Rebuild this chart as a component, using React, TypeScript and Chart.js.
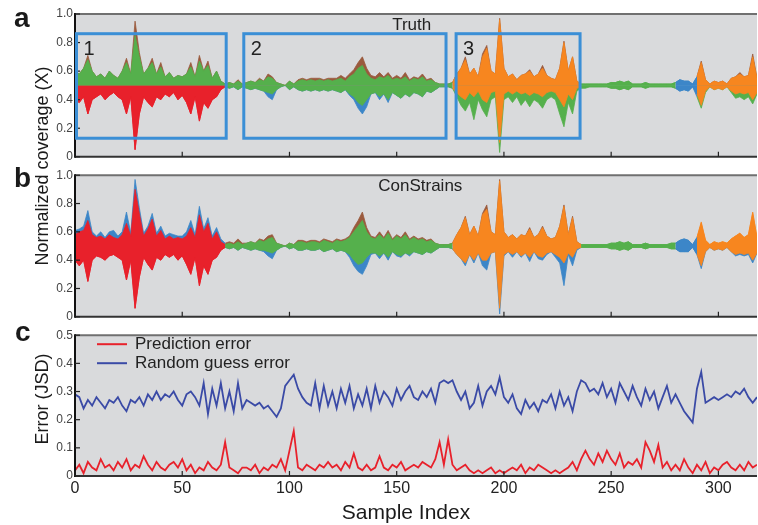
import React, { useEffect, useRef } from 'react';
import { Chart, registerables } from 'chart.js';
Chart.register(...registerables);

const FONT = '"Liberation Sans", Arial, Helvetica, sans-serif';

// Sample index of each stored value (every 2nd sample)
const SAMPLE_X = Array.from({ length: 160 }, (_, i) => i * 2);
const X_TICKS = [0, 50, 100, 150, 200, 250, 300];

// ---------- Panel a (Truth): envelopes around 0.5 ----------
const A_UP = [
  0.60,0.58,0.62,0.68,0.60,0.56,0.58,0.55,0.60,0.57,
  0.55,0.60,0.66,0.58,0.85,0.70,0.58,0.62,0.66,0.58,
  0.63,0.56,0.59,0.55,0.57,0.56,0.58,0.63,0.56,0.67,
  0.60,0.64,0.55,0.60,0.53,0.51,0.52,0.51,0.53,0.51,
  0.52,0.53,0.52,0.54,0.53,0.56,0.55,0.52,0.51,0.50,
  0.53,0.51,0.53,0.54,0.53,0.54,0.53,0.54,0.53,0.54,
  0.53,0.54,0.55,0.53,0.56,0.58,0.62,0.64,0.58,0.55,
  0.54,0.56,0.55,0.57,0.54,0.55,0.54,0.56,0.53,0.55,
  0.54,0.56,0.53,0.54,0.52,0.51,0.51,0.51,0.52,0.58,
  0.62,0.68,0.58,0.62,0.56,0.70,0.76,0.60,0.58,0.96,
  0.62,0.56,0.58,0.54,0.57,0.58,0.60,0.56,0.58,0.62,
  0.57,0.55,0.54,0.62,0.80,0.60,0.70,0.53,0.51,0.51,
  0.51,0.51,0.51,0.51,0.51,0.52,0.52,0.53,0.52,0.53,
  0.51,0.51,0.51,0.52,0.51,0.51,0.51,0.51,0.51,0.51,
  0.52,0.54,0.53,0.53,0.51,0.56,0.66,0.54,0.51,0.53,
  0.52,0.53,0.51,0.55,0.56,0.58,0.56,0.57,0.70,0.55,
];
const A_UP_TIP = [
  0.60,0.58,0.62,0.71,0.60,0.56,0.58,0.55,0.60,0.57,
  0.55,0.60,0.69,0.58,0.95,0.73,0.58,0.62,0.69,0.58,
  0.66,0.56,0.59,0.55,0.57,0.56,0.58,0.66,0.56,0.71,
  0.60,0.67,0.55,0.60,0.53,0.51,0.52,0.51,0.54,0.51,
  0.52,0.53,0.52,0.55,0.53,0.58,0.56,0.52,0.51,0.50,
  0.53,0.51,0.54,0.55,0.54,0.55,0.55,0.55,0.54,0.55,
  0.55,0.55,0.57,0.55,0.58,0.61,0.66,0.70,0.62,0.57,
  0.56,0.59,0.56,0.59,0.55,0.57,0.55,0.59,0.54,0.56,
  0.55,0.58,0.54,0.55,0.52,0.51,0.51,0.51,0.52,0.58,
  0.62,0.70,0.58,0.62,0.56,0.72,0.78,0.60,0.58,0.97,
  0.62,0.56,0.58,0.54,0.57,0.58,0.61,0.56,0.58,0.64,
  0.57,0.55,0.54,0.62,0.81,0.60,0.70,0.53,0.51,0.51,
  0.51,0.51,0.51,0.51,0.51,0.52,0.52,0.53,0.52,0.53,
  0.51,0.51,0.51,0.52,0.51,0.51,0.51,0.51,0.51,0.51,
  0.52,0.54,0.53,0.53,0.51,0.56,0.67,0.54,0.51,0.53,
  0.52,0.53,0.51,0.55,0.56,0.59,0.56,0.57,0.72,0.55,
];
const A_LO = [
  0.40,0.38,0.42,0.30,0.40,0.42,0.44,0.40,0.43,0.45,
  0.42,0.40,0.30,0.42,0.05,0.30,0.42,0.38,0.35,0.42,
  0.40,0.44,0.42,0.45,0.40,0.43,0.38,0.30,0.42,0.25,
  0.38,0.34,0.40,0.42,0.47,0.49,0.48,0.49,0.47,0.49,
  0.48,0.47,0.48,0.47,0.46,0.45,0.44,0.47,0.49,0.50,
  0.47,0.49,0.47,0.46,0.47,0.46,0.47,0.46,0.47,0.46,
  0.47,0.46,0.45,0.47,0.44,0.42,0.38,0.36,0.40,0.44,
  0.45,0.42,0.44,0.40,0.45,0.43,0.41,0.44,0.42,0.45,
  0.44,0.42,0.46,0.45,0.47,0.49,0.49,0.49,0.48,0.45,
  0.42,0.40,0.45,0.42,0.46,0.40,0.38,0.45,0.46,0.10,
  0.44,0.46,0.44,0.46,0.44,0.45,0.43,0.45,0.44,0.42,
  0.45,0.46,0.45,0.40,0.35,0.44,0.40,0.48,0.49,0.49,
  0.49,0.49,0.49,0.49,0.49,0.48,0.48,0.47,0.48,0.47,
  0.49,0.49,0.49,0.48,0.49,0.49,0.49,0.49,0.49,0.49,
  0.48,0.46,0.47,0.46,0.49,0.44,0.36,0.46,0.49,0.47,
  0.48,0.47,0.49,0.46,0.44,0.45,0.44,0.45,0.40,0.45,
];
const A_LO_TIP = [
  0.40,0.38,0.42,0.30,0.40,0.42,0.44,0.40,0.43,0.45,
  0.42,0.40,0.30,0.42,0.05,0.30,0.42,0.38,0.35,0.42,
  0.40,0.44,0.42,0.45,0.40,0.43,0.38,0.30,0.42,0.25,
  0.38,0.34,0.40,0.42,0.47,0.49,0.48,0.49,0.47,0.49,
  0.48,0.47,0.48,0.47,0.46,0.42,0.40,0.47,0.49,0.50,
  0.47,0.49,0.47,0.46,0.47,0.46,0.47,0.46,0.47,0.46,
  0.47,0.46,0.45,0.47,0.43,0.40,0.34,0.30,0.35,0.44,
  0.45,0.40,0.44,0.38,0.45,0.43,0.41,0.44,0.42,0.45,
  0.44,0.42,0.46,0.45,0.47,0.49,0.49,0.49,0.48,0.42,
  0.36,0.32,0.38,0.26,0.40,0.33,0.28,0.40,0.42,0.03,
  0.40,0.42,0.38,0.42,0.36,0.40,0.35,0.40,0.38,0.34,
  0.40,0.42,0.40,0.30,0.21,0.38,0.30,0.46,0.48,0.48,
  0.49,0.49,0.49,0.49,0.49,0.48,0.48,0.47,0.48,0.47,
  0.49,0.49,0.49,0.48,0.49,0.49,0.49,0.49,0.49,0.49,
  0.48,0.46,0.47,0.46,0.49,0.42,0.34,0.45,0.49,0.47,
  0.48,0.47,0.49,0.45,0.41,0.42,0.40,0.42,0.37,0.44,
];

// ---------- Panel b (ConStrains) ----------
const B_UP = [
  0.58,0.60,0.61,0.68,0.58,0.56,0.57,0.55,0.58,0.56,
  0.55,0.58,0.66,0.57,0.90,0.73,0.57,0.62,0.69,0.57,
  0.61,0.55,0.57,0.55,0.56,0.55,0.57,0.63,0.56,0.72,
  0.60,0.66,0.55,0.60,0.53,0.51,0.52,0.51,0.53,0.51,
  0.52,0.53,0.52,0.54,0.53,0.55,0.56,0.52,0.51,0.50,
  0.52,0.51,0.53,0.53,0.52,0.53,0.53,0.52,0.54,0.53,
  0.52,0.54,0.53,0.54,0.56,0.60,0.64,0.68,0.60,0.56,
  0.55,0.58,0.55,0.59,0.54,0.57,0.55,0.58,0.54,0.56,
  0.54,0.55,0.53,0.54,0.52,0.51,0.51,0.51,0.52,0.58,
  0.63,0.70,0.58,0.64,0.57,0.72,0.76,0.60,0.58,0.96,
  0.60,0.56,0.58,0.55,0.58,0.57,0.62,0.56,0.58,0.63,
  0.57,0.55,0.56,0.64,0.78,0.58,0.70,0.53,0.51,0.51,
  0.51,0.51,0.51,0.51,0.51,0.52,0.52,0.53,0.52,0.53,
  0.51,0.51,0.51,0.52,0.51,0.51,0.51,0.51,0.51,0.52,
  0.52,0.54,0.55,0.54,0.51,0.56,0.66,0.54,0.51,0.53,
  0.52,0.53,0.52,0.55,0.57,0.59,0.56,0.58,0.73,0.56,
];
const B_UP_TIP = [
  0.61,0.62,0.64,0.75,0.60,0.57,0.60,0.56,0.60,0.61,
  0.57,0.60,0.74,0.59,0.97,0.77,0.59,0.64,0.73,0.59,
  0.64,0.57,0.59,0.58,0.57,0.57,0.60,0.68,0.58,0.78,
  0.62,0.70,0.57,0.63,0.55,0.52,0.53,0.52,0.55,0.52,
  0.52,0.53,0.52,0.55,0.54,0.57,0.58,0.52,0.51,0.50,
  0.52,0.51,0.54,0.54,0.53,0.54,0.54,0.53,0.55,0.54,
  0.53,0.55,0.54,0.55,0.57,0.63,0.68,0.74,0.63,0.57,
  0.56,0.60,0.56,0.61,0.55,0.58,0.56,0.60,0.55,0.57,
  0.55,0.56,0.54,0.55,0.52,0.51,0.51,0.51,0.52,0.58,
  0.63,0.71,0.58,0.64,0.57,0.73,0.79,0.60,0.58,0.97,
  0.60,0.56,0.58,0.55,0.58,0.57,0.63,0.56,0.58,0.64,
  0.57,0.55,0.56,0.64,0.79,0.58,0.71,0.53,0.51,0.51,
  0.51,0.51,0.51,0.51,0.51,0.52,0.52,0.53,0.52,0.53,
  0.51,0.51,0.51,0.52,0.51,0.51,0.51,0.51,0.51,0.52,
  0.52,0.54,0.55,0.54,0.51,0.56,0.67,0.54,0.51,0.53,
  0.52,0.53,0.52,0.55,0.57,0.59,0.56,0.58,0.74,0.56,
];
const B_LO = [
  0.40,0.36,0.40,0.25,0.40,0.43,0.42,0.40,0.43,0.44,
  0.42,0.40,0.26,0.40,0.06,0.28,0.42,0.37,0.33,0.42,
  0.40,0.44,0.42,0.44,0.40,0.43,0.37,0.30,0.42,0.22,
  0.36,0.30,0.40,0.42,0.47,0.49,0.48,0.49,0.47,0.49,
  0.48,0.47,0.48,0.47,0.47,0.46,0.45,0.47,0.49,0.50,
  0.48,0.49,0.47,0.47,0.48,0.47,0.47,0.48,0.46,0.47,
  0.48,0.46,0.47,0.46,0.44,0.40,0.37,0.38,0.42,0.45,
  0.45,0.43,0.45,0.42,0.46,0.44,0.43,0.45,0.44,0.46,
  0.45,0.44,0.46,0.45,0.47,0.49,0.49,0.49,0.48,0.44,
  0.41,0.38,0.44,0.40,0.45,0.40,0.40,0.45,0.46,0.06,
  0.44,0.46,0.44,0.46,0.43,0.45,0.42,0.46,0.43,0.42,
  0.45,0.46,0.44,0.42,0.38,0.45,0.42,0.48,0.49,0.49,
  0.49,0.49,0.49,0.49,0.49,0.48,0.48,0.47,0.48,0.47,
  0.49,0.49,0.49,0.48,0.49,0.49,0.49,0.49,0.49,0.48,
  0.48,0.46,0.46,0.46,0.49,0.44,0.36,0.46,0.49,0.47,
  0.48,0.47,0.49,0.46,0.44,0.45,0.44,0.45,0.40,0.45,
];
const B_LO_TIP = [
  0.40,0.36,0.40,0.25,0.40,0.43,0.42,0.40,0.43,0.44,
  0.42,0.40,0.26,0.40,0.06,0.28,0.42,0.37,0.33,0.42,
  0.40,0.44,0.42,0.44,0.40,0.43,0.37,0.30,0.42,0.22,
  0.36,0.30,0.40,0.42,0.47,0.49,0.48,0.49,0.47,0.49,
  0.48,0.47,0.48,0.47,0.46,0.43,0.41,0.47,0.49,0.50,
  0.48,0.49,0.47,0.47,0.48,0.47,0.47,0.48,0.46,0.47,
  0.48,0.46,0.47,0.46,0.42,0.36,0.32,0.30,0.36,0.44,
  0.45,0.41,0.45,0.40,0.46,0.43,0.42,0.45,0.43,0.46,
  0.45,0.44,0.46,0.45,0.47,0.49,0.49,0.49,0.48,0.44,
  0.41,0.36,0.44,0.38,0.45,0.36,0.33,0.45,0.46,0.02,
  0.43,0.46,0.42,0.46,0.42,0.45,0.39,0.46,0.41,0.40,
  0.44,0.46,0.42,0.38,0.22,0.44,0.36,0.47,0.49,0.49,
  0.49,0.49,0.49,0.49,0.49,0.48,0.48,0.47,0.48,0.47,
  0.49,0.49,0.49,0.48,0.49,0.49,0.49,0.49,0.49,0.48,
  0.48,0.46,0.46,0.46,0.49,0.44,0.34,0.46,0.49,0.47,
  0.48,0.47,0.49,0.46,0.43,0.44,0.43,0.44,0.38,0.45,
];

// ---------- Panel c: JSD errors ----------
const PRED_ERR = [
  0.02,0.04,0.01,0.05,0.03,0.02,0.06,0.03,0.04,0.02,
  0.05,0.03,0.06,0.02,0.04,0.03,0.07,0.04,0.02,0.05,
  0.03,0.02,0.04,0.05,0.03,0.06,0.02,0.04,0.01,0.03,
  0.02,0.05,0.03,0.02,0.04,0.12,0.03,0.02,0.01,0.03,
  0.03,0.02,0.04,0.01,0.03,0.02,0.04,0.03,0.06,0.02,
  0.09,0.16,0.03,0.02,0.04,0.03,0.02,0.04,0.03,0.05,
  0.03,0.04,0.02,0.05,0.03,0.08,0.03,0.02,0.04,0.02,
  0.03,0.07,0.03,0.02,0.04,0.03,0.05,0.02,0.03,0.04,
  0.03,0.05,0.04,0.03,0.06,0.12,0.04,0.13,0.04,0.02,
  0.03,0.04,0.02,0.01,0.02,0.01,0.02,0.03,0.01,0.02,
  0.01,0.02,0.03,0.02,0.04,0.01,0.03,0.02,0.04,0.03,
  0.02,0.01,0.02,0.01,0.02,0.03,0.05,0.02,0.06,0.09,
  0.06,0.04,0.08,0.05,0.09,0.06,0.04,0.08,0.03,0.05,
  0.04,0.06,0.03,0.12,0.09,0.05,0.11,0.03,0.05,0.02,
  0.04,0.02,0.06,0.03,0.01,0.04,0.02,0.05,0.01,0.03,
  0.02,0.04,0.05,0.03,0.02,0.04,0.02,0.05,0.03,0.04,
];
const RANDOM_ERR = [
  0.29,0.28,0.24,0.27,0.25,0.28,0.26,0.24,0.27,0.26,
  0.28,0.25,0.23,0.27,0.26,0.28,0.25,0.29,0.27,0.30,
  0.27,0.29,0.28,0.30,0.27,0.25,0.29,0.30,0.28,0.25,
  0.33,0.22,0.31,0.25,0.33,0.24,0.30,0.23,0.33,0.24,
  0.27,0.26,0.25,0.26,0.24,0.25,0.23,0.21,0.24,0.32,
  0.34,0.36,0.31,0.28,0.26,0.25,0.33,0.24,0.32,0.25,
  0.30,0.24,0.31,0.26,0.32,0.24,0.29,0.25,0.31,0.24,
  0.32,0.26,0.30,0.28,0.25,0.31,0.27,0.30,0.32,0.28,
  0.27,0.30,0.28,0.31,0.26,0.33,0.34,0.33,0.34,0.30,
  0.27,0.30,0.24,0.26,0.32,0.25,0.30,0.32,0.29,0.35,
  0.28,0.26,0.29,0.24,0.22,0.27,0.24,0.26,0.23,0.27,
  0.26,0.29,0.24,0.30,0.25,0.28,0.23,0.30,0.34,0.33,
  0.30,0.31,0.29,0.33,0.28,0.31,0.26,0.33,0.30,0.27,
  0.32,0.28,0.25,0.31,0.27,0.30,0.24,0.28,0.32,0.26,
  0.29,0.26,0.23,0.21,0.19,0.31,0.37,0.26,0.27,0.28,
  0.27,0.28,0.29,0.28,0.30,0.29,0.31,0.28,0.26,0.28,
];

// Highlighted regions in panel a (sample-index ranges) and their labels
const BOX_LABELS = ['1', '2', '3'];
const BOX_FROM = [0, 78, 177];
const BOX_TO = [70.5, 173, 235.5];
const BOX_LOW = 0.13;
const BOX_HIGH = 0.862;

// ---------- styles ----------
const RED = '#e8212b';
const GREEN = '#55b04c';
const BLUE = '#3c86c8';
const ORANGE = '#f7861f';
const BROWN = '#9a5a3e';
const BG = '#d9dadc';
const BOX_COLOR = '#3b8fd6';
const LINE_RED = '#e8212b';
const LINE_BLUE = '#3a4aa6';

type Region = { from: number; to: number; up: [string, string]; lo: [string, string] };
const REGIONS_A: Region[] = [
  { from: 0, to: 70, up: [GREEN, BROWN], lo: [RED, RED] },
  { from: 70, to: 176, up: [GREEN, BROWN], lo: [GREEN, BLUE] },
  { from: 176, to: 236, up: [ORANGE, BROWN], lo: [ORANGE, GREEN] },
  { from: 236, to: 280, up: [GREEN, GREEN], lo: [GREEN, GREEN] },
  { from: 280, to: 290, up: [BLUE, BLUE], lo: [BLUE, BLUE] },
  { from: 290, to: 318, up: [ORANGE, BROWN], lo: [ORANGE, GREEN] },
];
const REGIONS_B: Region[] = [
  { from: 0, to: 70, up: [RED, BLUE], lo: [RED, RED] },
  { from: 70, to: 176, up: [GREEN, BROWN], lo: [GREEN, BLUE] },
  { from: 176, to: 236, up: [ORANGE, BROWN], lo: [ORANGE, BLUE] },
  { from: 236, to: 280, up: [GREEN, GREEN], lo: [GREEN, GREEN] },
  { from: 280, to: 290, up: [BLUE, BLUE], lo: [BLUE, BLUE] },
  { from: 290, to: 318, up: [ORANGE, ORANGE], lo: [ORANGE, BLUE] },
];

function pts(arr: number[], from: number, to: number) {
  return SAMPLE_X.map((x, i) => ({ x, y: arr[i] })).filter((p) => p.x >= from && p.x <= to);
}
function areaDs(data: any[], color: string) {
  return {
    data,
    borderColor: color,
    backgroundColor: color,
    borderWidth: 0.8,
    pointRadius: 0,
    tension: 0,
    fill: { value: 0.5 },
  };
}
function buildAreas(regions: Region[], up: number[], upTip: number[], lo: number[], loTip: number[]) {
  const main: any[] = [];
  const tips: any[] = [];
  regions.forEach((r) => {
    main.push(areaDs(pts(up, r.from, r.to), r.up[0]), areaDs(pts(lo, r.from, r.to), r.lo[0]));
    tips.push(areaDs(pts(upTip, r.from, r.to), r.up[1]), areaDs(pts(loTip, r.from, r.to), r.lo[1]));
  });
  // first datasets are drawn last (on top)
  return [...main, ...tips];
}

const framePlugin = {
  id: 'frame',
  beforeDraw(chart: any) {
    const { ctx, chartArea: a } = chart;
    ctx.save();
    ctx.fillStyle = BG;
    ctx.fillRect(a.left, a.top, a.right - a.left, a.bottom - a.top);
    ctx.restore();
  },
  afterDatasetsDraw(chart: any) {
    const { ctx, chartArea: a, scales } = chart;
    const seg = (x1: number, y1: number, x2: number, y2: number, c: string, w: number) => {
      ctx.strokeStyle = c;
      ctx.lineWidth = w;
      ctx.beginPath();
      ctx.moveTo(x1, y1);
      ctx.lineTo(x2, y2);
      ctx.stroke();
    };
    ctx.save();
    seg(a.left, a.top, a.right, a.top, '#707070', 2);
    seg(a.left, a.bottom, a.right, a.bottom, '#333', 2);
    seg(a.left, a.top - 1, a.left, a.bottom + 1, '#111', 2);
    X_TICKS.forEach((v) => {
      const px = scales.x.getPixelForValue(v);
      seg(px, a.bottom, px, a.bottom - 5, '#222', 1.2);
    });
    scales.y.ticks.forEach((t: any) => {
      const py = scales.y.getPixelForValue(t.value);
      seg(a.left, py, a.left + 5, py, '#222', 1.2);
    });
    ctx.restore();
  },
};

function titlePlugin(text: string, atX: number) {
  return {
    id: 'panelTitle',
    afterDatasetsDraw(chart: any) {
      const { ctx, chartArea: a, scales } = chart;
      ctx.save();
      ctx.font = `17px ${FONT}`;
      ctx.fillStyle = '#222';
      ctx.textAlign = 'center';
      ctx.textBaseline = 'alphabetic';
      ctx.fillText(text, scales.x.getPixelForValue(atX), a.top + 16);
      ctx.restore();
    },
  };
}

const boxPlugin = {
  id: 'boxes',
  afterDatasetsDraw(chart: any) {
    const { ctx, scales } = chart;
    ctx.save();
    BOX_LABELS.forEach((lab, i) => {
      const x0 = scales.x.getPixelForValue(BOX_FROM[i]) + 1.5;
      const x1 = scales.x.getPixelForValue(BOX_TO[i]);
      const y0 = scales.y.getPixelForValue(BOX_HIGH);
      const y1 = scales.y.getPixelForValue(BOX_LOW);
      ctx.strokeStyle = BOX_COLOR;
      ctx.lineWidth = 3;
      ctx.strokeRect(x0, y0, x1 - x0, y1 - y0);
      ctx.font = `20px ${FONT}`;
      ctx.fillStyle = '#222';
      ctx.textAlign = 'left';
      ctx.textBaseline = 'alphabetic';
      ctx.fillText(lab, x0 + 7, y0 + 21);
    });
    ctx.restore();
  },
};

const legendPlugin = {
  id: 'errLegend',
  afterDatasetsDraw(chart: any) {
    const { ctx, chartArea: a } = chart;
    const items = [
      { label: 'Prediction error', color: LINE_RED, dy: 9 },
      { label: 'Random guess error', color: LINE_BLUE, dy: 28 },
    ];
    ctx.save();
    items.forEach((it) => {
      const y = a.top + it.dy;
      ctx.strokeStyle = it.color;
      ctx.lineWidth = 2;
      ctx.beginPath();
      ctx.moveTo(a.left + 22, y);
      ctx.lineTo(a.left + 52, y);
      ctx.stroke();
      ctx.font = `17px ${FONT}`;
      ctx.fillStyle = '#222';
      ctx.textAlign = 'left';
      ctx.textBaseline = 'middle';
      ctx.fillText(it.label, a.left + 60, y);
    });
    ctx.restore();
  },
};

function yAxis(max: number, step: number) {
  return {
    type: 'linear',
    min: 0,
    max,
    afterFit: (s: any) => {
      s.width = 75;
    },
    grid: { display: false, drawTicks: false },
    border: { display: false },
    ticks: {
      stepSize: step,
      padding: 2,
      color: '#444',
      font: { family: FONT, size: 12 },
      callback: (v: any) => (Math.abs(v) < 1e-9 ? '0' : Number(v).toFixed(1)),
    },
  };
}

function coverageConfig(datasets: any[], extra: any[], padTop: number) {
  return {
    type: 'line',
    data: { datasets },
    options: {
      animation: false,
      responsive: false,
      events: [],
      layout: { padding: { left: 0, right: 1, top: padTop, bottom: 7 } },
      plugins: { legend: { display: false }, tooltip: { enabled: false } },
      scales: {
        x: { type: 'linear', min: 0, max: 318, display: false },
        y: yAxis(1, 0.2),
      },
    },
    plugins: [framePlugin, ...extra],
  } as any;
}

function errorConfig() {
  return {
    type: 'line',
    data: {
      datasets: [
        {
          label: 'Prediction error',
          data: SAMPLE_X.map((x, i) => ({ x, y: PRED_ERR[i] })),
          borderColor: LINE_RED,
          borderWidth: 1.8,
          pointRadius: 0,
          tension: 0,
          fill: false,
        },
        {
          label: 'Random guess error',
          data: SAMPLE_X.map((x, i) => ({ x, y: RANDOM_ERR[i] })),
          borderColor: LINE_BLUE,
          borderWidth: 1.8,
          pointRadius: 0,
          tension: 0,
          fill: false,
        },
      ],
    },
    options: {
      animation: false,
      responsive: false,
      events: [],
      layout: { padding: { left: 0, right: 1, top: 7, bottom: 0 } },
      plugins: { legend: { display: false }, tooltip: { enabled: false } },
      scales: {
        x: {
          type: 'linear',
          min: 0,
          max: 318,
          afterFit: (s: any) => {
            s.height = 49;
          },
          grid: { display: false, drawTicks: false },
          border: { display: false },
          ticks: {
            stepSize: 50,
            includeBounds: false,
            padding: 3,
            color: '#222',
            font: { family: FONT, size: 16 },
            maxRotation: 0,
          },
        },
        y: yAxis(0.5, 0.1),
      },
    },
    plugins: [framePlugin, legendPlugin],
  } as any;
}

const textStyle: React.CSSProperties = {
  position: 'absolute',
  fontFamily: FONT,
  color: '#1a1a1a',
  whiteSpace: 'nowrap',
  lineHeight: 1,
};

export default function App() {
  const ra = useRef<HTMLCanvasElement>(null);
  const rb = useRef<HTMLCanvasElement>(null);
  const rc = useRef<HTMLCanvasElement>(null);

  useEffect(() => {
    const charts = [
      new Chart(
        ra.current!,
        coverageConfig(buildAreas(REGIONS_A, A_UP, A_UP_TIP, A_LO, A_LO_TIP), [boxPlugin, titlePlugin('Truth', 157)], 14)
      ),
      new Chart(
        rb.current!,
        coverageConfig(buildAreas(REGIONS_B, B_UP, B_UP_TIP, B_LO, B_LO_TIP), [titlePlugin('ConStrains', 161)], 8)
      ),
      new Chart(rc.current!, errorConfig()),
    ];
    return () => charts.forEach((c) => c.destroy());
  }, []);

  return (
    <div style={{ position: 'absolute', left: 0, top: 0, width: 758, height: 525, background: '#fff', overflow: 'hidden' }}>
      <canvas ref={ra} width={758} height={166} style={{ position: 'absolute', left: 0, top: 0, width: 758, height: 166 }} />
      <canvas ref={rb} width={758} height={160} style={{ position: 'absolute', left: 0, top: 166, width: 758, height: 160 }} />
      <canvas ref={rc} width={758} height={199} style={{ position: 'absolute', left: 0, top: 326, width: 758, height: 199 }} />

      <div style={{ ...textStyle, left: 14, top: 4, fontSize: 28, fontWeight: 'bold' }}>a</div>
      <div style={{ ...textStyle, left: 14, top: 164, fontSize: 28, fontWeight: 'bold' }}>b</div>
      <div style={{ ...textStyle, left: 15, top: 318, fontSize: 28, fontWeight: 'bold' }}>c</div>

      <div
        style={{
          ...textStyle,
          left: 42,
          top: 166,
          fontSize: 18,
          transform: 'translate(-50%, -50%) rotate(-90deg)',
        }}
      >
        Normalized coverage (X)
      </div>
      <div
        style={{
          ...textStyle,
          left: 42,
          top: 399,
          fontSize: 18,
          transform: 'translate(-50%, -50%) rotate(-90deg)',
        }}
      >
        Error (JSD)
      </div>
      <div style={{ ...textStyle, left: 406, top: 511, fontSize: 21, transform: 'translate(-50%, -50%)' }}>
        Sample Index
      </div>
    </div>
  );
}
